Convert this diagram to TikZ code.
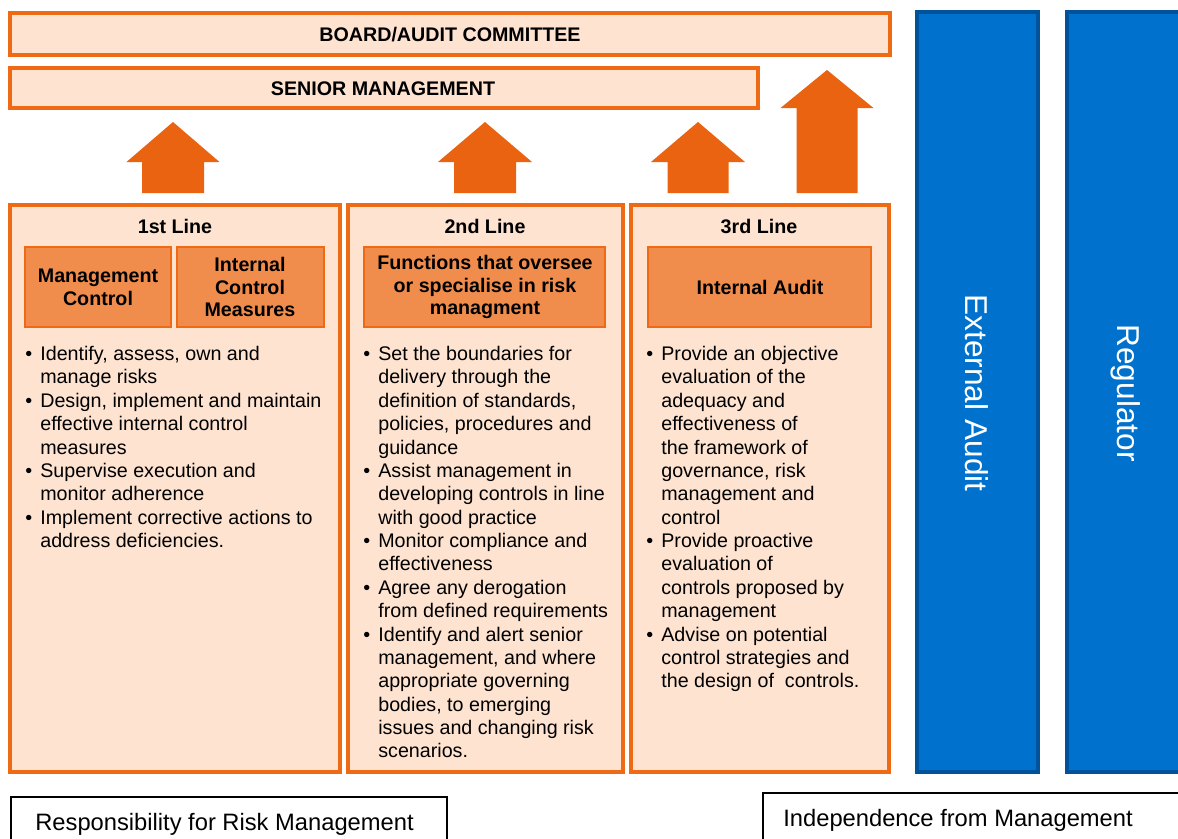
\documentclass[tikz,border=0pt]{standalone}
\usepackage{fontspec}
\setmainfont{Liberation Sans}
\usepackage{xcolor}
\usetikzlibrary{calc}
\definecolor{peach}{HTML}{FDE3D0}
\definecolor{orangeline}{HTML}{EE6A15}
\definecolor{orangemid}{HTML}{F18D4C}
\definecolor{orangedark}{HTML}{EA6310}
\definecolor{bluemain}{HTML}{0072CE}
\definecolor{bluedark}{HTML}{00539B}
\newcommand\bul{\makebox[0.3cm][l]{\textbullet}}
\newcommand\ind{\hspace*{0.3cm}}
\tikzset{
  panel/.style={draw=orangeline, fill=peach, line width=2pt},
  subbox/.style={draw=orangeline, fill=orangemid, line width=1.6pt},
  head/.style={font=\bfseries\fontsize{11.2}{13}\selectfont, align=center, inner sep=0pt},
  bullets/.style={anchor=north west, align=left, inner sep=0pt, font=\fontsize{11.2}{13.3}\selectfont},
  bigarrow/.style={fill=orangedark},
  outer/.style={draw=bluedark, fill=bluemain, line width=2pt},
  side/.style={rotate=-90, text=white, font=\fontsize{18}{20}\selectfont},
  note/.style={draw=black, line width=1pt},
  notetext/.style={anchor=base west, inner sep=0pt, font=\fontsize{13.5}{16}\selectfont},
}

\begin{document}
\begin{tikzpicture}[x=0.02cm, y=-0.02cm]
  \clip (0,0) rectangle (1178,839);
  \fill[white] (0,0) rectangle (1178,839);
  % top bars
  \draw[panel] (10,13) rectangle (890,55);
  \draw[panel] (10,68) rectangle (758,108);
  \node[head] (board) at (450,35) {BOARD/AUDIT COMMITTEE};
  \node[head] (senior) at (383,89) {SENIOR MANAGEMENT};
  % arrows
  \foreach \cx/\ty/\sy/\hw/\sw in {173/122/162/46.5/31, 485/122/162/47/31,
                                   698/122/162/47/30.5, 827/70/108/46.5/30.5}
    \fill[bigarrow] (\cx,\ty) -- ({\cx+\hw},\sy) -- ({\cx+\sw},\sy) -- ({\cx+\sw},193)
      -- ({\cx-\sw},193) -- ({\cx-\sw},\sy) -- ({\cx-\hw},\sy) -- cycle;
  % three lines
  \draw[panel] (10,205) rectangle (340,772);
  \draw[panel] (348,205) rectangle (623,772);
  \draw[panel] (631,205) rectangle (889,772);
  \node[head] (first) at (175,226) {1st Line};
  \node[head] (second) at (485,226) {2nd Line};
  \node[head] (third) at (759,226) {3rd Line};
  \draw[subbox] (25,247) rectangle (171,327);
  \draw[subbox] (177,247) rectangle (324,327);
  \draw[subbox] (364,247) rectangle (605,327);
  \draw[subbox] (648,247) rectangle (871,327);
  \node[head] (mgmt) at (98,287) {Management\\Control};
  \node[head] (icm) at (250,287) {Internal\\Control\\Measures};
  \node[head] (funcs) at (485,287) {Functions that oversee\\or specialise in risk\\managment};
  \node[head] (ia) at (760,287) {Internal Audit};
  \node[bullets] (firstlist) at (25,346) {%
    \bul Identify, assess, own and\\
    \ind manage risks\\
    \bul Design, implement and maintain\\
    \ind effective internal control\\
    \ind measures\\
    \bul Supervise execution and\\
    \ind monitor adherence\\
    \bul Implement corrective actions to\\
    \ind address deficiencies.};
  \node[bullets] (secondlist) at (363,346) {%
    \bul Set the boundaries for\\
    \ind delivery through the\\
    \ind definition of standards,\\
    \ind policies, procedures and\\
    \ind guidance\\
    \bul Assist management in\\
    \ind developing controls in line\\
    \ind with good practice\\
    \bul Monitor compliance and\\
    \ind effectiveness\\
    \bul Agree any derogation\\
    \ind from defined requirements\\
    \bul Identify and alert senior\\
    \ind management, and where\\
    \ind appropriate governing\\
    \ind bodies, to emerging\\
    \ind issues and changing risk\\
    \ind scenarios.};
  \node[bullets] (thirdlist) at (646,346) {%
    \bul Provide an objective\\
    \ind evaluation of the\\
    \ind adequacy and\\
    \ind effectiveness of\\
    \ind the framework of\\
    \ind governance, risk\\
    \ind management and\\
    \ind control\\
    \bul Provide proactive\\
    \ind evaluation of\\
    \ind controls proposed by\\
    \ind management\\
    \bul Advise on potential\\
    \ind control strategies and\\
    \ind the design of\ \ controls.};
  % outside bodies
  \draw[outer] (917,12) rectangle (1038,772);
  \draw[outer] (1067,12) rectangle (1200,772);
  \node[side] (ext) at (977,393) {External Audit};
  \node[side] (reg) at (1126,393) {Regulator};
  % notes
  \draw[note] (11,860) |- (447,797) -- (447,860);
  \draw[note] (763,860) |- (1200,793);
  \node[notetext] (resp) at (35,830) {Responsibility for Risk Management};
  \node[notetext] (indep) at (783,826) {Independence from Management};
\end{tikzpicture}
\end{document}
